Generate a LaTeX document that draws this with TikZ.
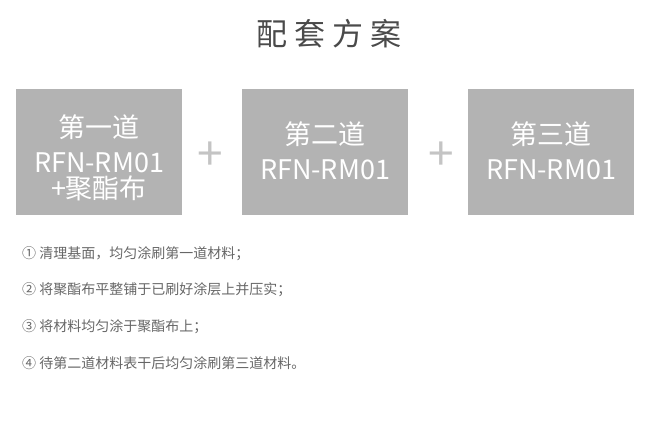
\documentclass[tikz,border=0pt]{standalone}
\usepackage{fontspec}
\setmainfont{Noto Sans CJK SC}
\usepackage{xcolor}
\definecolor{boxgray}{HTML}{B3B3B3}
\definecolor{plusgray}{HTML}{C4C4C4}
\definecolor{titlegray}{HTML}{4A4A4A}
\definecolor{stepgray}{HTML}{666666}

\begin{document}
\begin{tikzpicture}[x=1pt,y=-1pt,
  stepbox/.style={fill=boxgray, minimum width=166pt, minimum height=126pt, inner sep=0pt},
  boxtext/.style={text=white, align=center, font=\fontsize{27}{35}\selectfont, inner sep=0pt},
  plussign/.style={text=plusgray, font=\fontsize{46}{46}\selectfont, inner sep=0pt},
  steptext/.style={text=stepgray, anchor=west, font=\fontsize{14}{16}\selectfont, inner sep=0pt}]
\useasboundingbox (0,0) rectangle (650,425);

\node[text=titlegray, font=\fontsize{31}{31}\selectfont, inner sep=0pt] (title) at (329,34)
  {配\hspace{7pt}套\hspace{7pt}方\hspace{7pt}案};

\node[stepbox] (box1) at (99,152) {};
\node[stepbox] (box2) at (325,152) {};
\node[stepbox] (box3) at (551,152) {};

\node[boxtext] (txt1) at ([yshift=-6]box1.center) {第一道\\RFN-RM01\\[-9pt]+聚酯布};
\node[boxtext] (txt2) at ([yshift=1]box2.center) {第二道\\RFN-RM01};
\node[boxtext] (txt3) at ([yshift=1]box3.center) {第三道\\RFN-RM01};

\node[plussign] (plus1) at (210,156) {+};
\node[plussign] (plus2) at (441,156) {+};

\node[steptext] (s1) at (22,254) {① 清理基面，均匀涂刷第一道材料；};
\node[steptext] (s2) at (22,290) {② 将聚酯布平整铺于已刷好涂层上并压实；};
\node[steptext] (s3) at (22,327) {③ 将材料均匀涂于聚酯布上；};
\node[steptext] (s4) at (22,363) {④ 待第二道材料表干后均匀涂刷第三道材料。};
\end{tikzpicture}
\end{document}
